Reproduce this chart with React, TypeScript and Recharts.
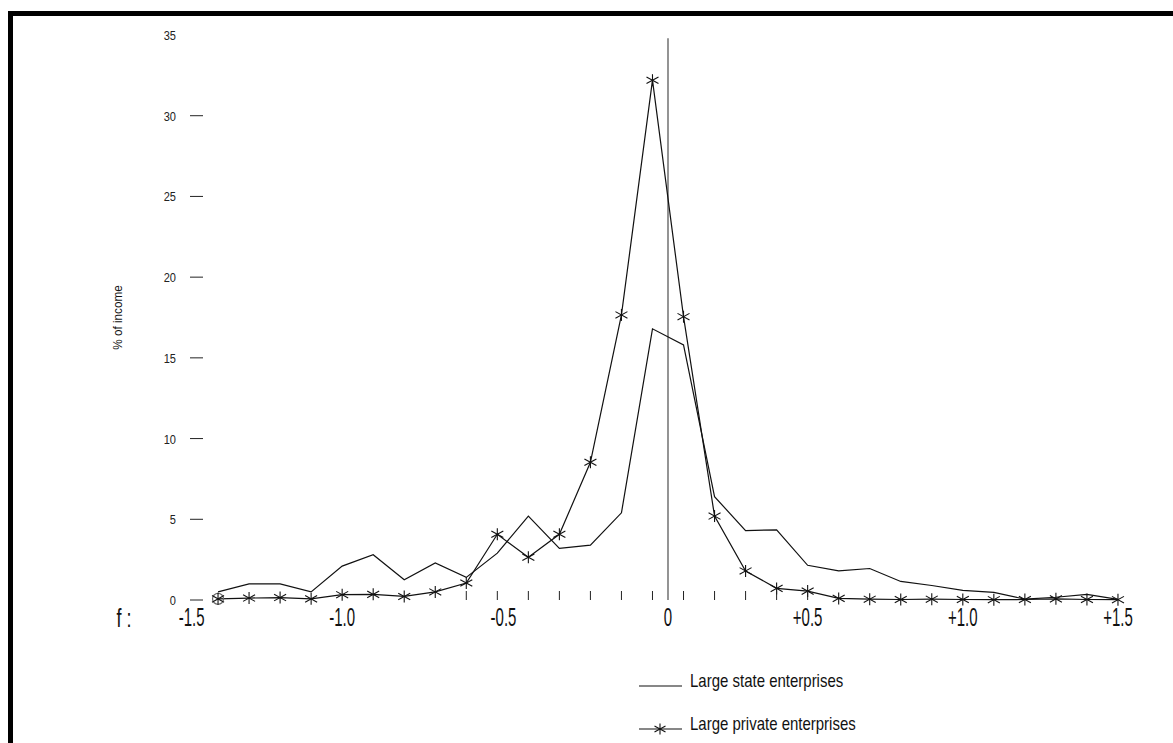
import { LineChart, Line, XAxis, YAxis, ReferenceLine, Legend } from "recharts";

// bin midpoints of f (width 0.1)
const binMid = [
  -1.45, -1.35, -1.25, -1.15, -1.05, -0.95, -0.85, -0.75, -0.65, -0.55,
  -0.45, -0.35, -0.25, -0.15, -0.05, 0.05, 0.15, 0.25, 0.35, 0.45,
  0.55, 0.65, 0.75, 0.85, 0.95, 1.05, 1.15, 1.25, 1.35, 1.45,
];

// % of income
const stateShare = [
  0.5, 1.0, 1.0, 0.5, 2.1, 2.8, 1.25, 2.3, 1.4, 2.9,
  5.2, 3.2, 3.4, 5.4, 16.8, 15.8, 6.4, 4.3, 4.35, 2.15,
  1.8, 1.95, 1.15, 0.9, 0.6, 0.47, 0.05, 0.17, 0.35, 0.04,
];
const privateShare = [
  0.07, 0.12, 0.15, 0.07, 0.33, 0.35, 0.22, 0.5, 1.05, 4.07,
  2.65, 4.07, 8.53, 17.66, 32.2, 17.55, 5.2, 1.8, 0.72, 0.55,
  0.1, 0.05, 0.03, 0.05, 0.03, 0.02, 0.03, 0.07, 0.03, 0.02,
];

const yTicks = [0, 5, 10, 15, 20, 25, 30, 35];
const xLabelAt = [-1.535, -1.05, -0.53, 0, 0.45, 0.95, 1.45];
const xLabelText = ["-1.5", "-1.0", "-0.5", "0", "+0.5", "+1.0", "+1.5"];
const minorTickAt = [
  -0.65, -0.55, -0.45, -0.35, -0.25, -0.15, -0.05, 0.05, 0.15, 0.25, 0.35, 0.45,
];

const data = binMid.map((f, i) => ({
  f,
  state: stateShare[i],
  priv: privateShare[i],
}));

const allXTicks = Array.from(new Set([...xLabelAt, ...minorTickAt])).sort(
  (a, b) => a - b
);

const FONT = "'Liberation Sans', Arial, sans-serif";

function XTick(props: any) {
  const { x, y, payload } = props;
  const v = payload.value;
  const li = xLabelAt.indexOf(v);
  const minor = minorTickAt.includes(v);
  return (
    <g>
      {minor && (
        <line x1={x} x2={x} y1={y - 9} y2={y} stroke="#222" strokeWidth={1} />
      )}
      {li >= 0 && (
        <text
          transform={`translate(${x},${y + 26}) scale(0.6,1)`}
          textAnchor="middle"
          fontFamily={FONT}
          fontSize={25}
          fill="#111"
        >
          {xLabelText[li]}
        </text>
      )}
    </g>
  );
}

function YTick(props: any) {
  const { x, y, payload } = props;
  return (
    <g>
      {payload.value !== 35 && (
        <line x1={x + 3} x2={x + 16} y1={y} y2={y} stroke="#222" strokeWidth={1} />
      )}
      <text
        transform={`translate(${x - 11},${y + 5}) scale(0.85,1)`}
        textAnchor="end"
        fontFamily={FONT}
        fontSize={13}
        fill="#222"
      >
        {payload.value}
      </text>
    </g>
  );
}

function Star({ cx, cy, s = 6 }: { cx: number; cy: number; s?: number }) {
  return (
    <g stroke="#111" strokeWidth={1.1}>
      <line x1={cx} x2={cx} y1={cy - s} y2={cy + s} />
      <line x1={cx - s} x2={cx + s} y1={cy - s * 0.55} y2={cy + s * 0.55} />
      <line x1={cx - s} x2={cx + s} y1={cy + s * 0.55} y2={cy - s * 0.55} />
    </g>
  );
}

const renderStar = (props: any) => {
  const { cx, cy, index } = props;
  return (
    <g key={`star-${index}`}>
      {index === 0 && (
        <circle cx={cx} cy={cy} r={5.5} fill="none" stroke="#666" strokeWidth={1.2} />
      )}
      <Star cx={cx} cy={cy} />
    </g>
  );
};

const renderYLabel = (props: any) => {
  const vb = props.viewBox;
  const cx = vb.x - 9.5;
  const cy = vb.y + vb.height / 2;
  return (
    <text
      transform={`translate(${cx},${cy}) rotate(-90) scale(0.9,1)`}
      textAnchor="middle"
      dominantBaseline="central"
      fontFamily={FONT}
      fontSize={13}
      fill="#111"
    >
      % of income
    </text>
  );
};

const renderXLabel = (props: any) => {
  const vb = props.viewBox;
  return (
    <text
      transform={`translate(${vb.x - 63},${vb.y + 27}) scale(0.72,1)`}
      textAnchor="middle"
      fontFamily={FONT}
      fontSize={25}
      fill="#111"
    >
      f :
    </text>
  );
};

function LegendBox() {
  const txt = {
    position: "absolute" as const,
    left: 60,
    fontFamily: FONT,
    fontSize: 18.5,
    lineHeight: "19px",
    color: "#111",
    whiteSpace: "nowrap" as const,
    transform: "scaleX(0.81)",
    transformOrigin: "0 0",
  };
  return (
    <div style={{ position: "relative", width: 300, height: 80 }}>
      <svg style={{ position: "absolute", left: 9, top: 20 }} width={44} height={12}>
        <line x1={0} x2={43} y1={6} y2={6} stroke="#111" strokeWidth={1.2} />
      </svg>
      <div style={{ ...txt, top: 11 }}>Large state enterprises</div>
      <svg style={{ position: "absolute", left: 9, top: 63 }} width={44} height={14}>
        <line x1={0} x2={43} y1={6} y2={6} stroke="#111" strokeWidth={1.2} />
        <Star cx={21} cy={6} s={5.5} />
      </svg>
      <div style={{ ...txt, top: 54 }}>Large private enterprises</div>
    </div>
  );
}

export default function App() {
  return (
    <div
      style={{
        position: "absolute",
        left: 0,
        top: 0,
        width: 1173,
        height: 743,
        background: "#fff",
        overflow: "hidden",
      }}
    >
      <div
        style={{
          position: "absolute",
          left: 8,
          top: 11,
          right: 0,
          bottom: 0,
          borderLeft: "5px solid #000",
          borderTop: "5px solid #000",
        }}
      />
      <div style={{ position: "absolute", left: 0, top: 0 }}>
        <LineChart
          width={1173}
          height={743}
          data={data}
          margin={{ top: 35, right: 24, left: 127, bottom: 103 }}
        >
          <XAxis
            dataKey="f"
            type="number"
            domain={[-1.55, 1.55]}
            allowDataOverflow
            ticks={allXTicks}
            interval={0}
            tick={<XTick />}
            tickLine={false}
            axisLine={false}
            tickSize={0}
            tickMargin={0}
            height={40}
            label={renderXLabel}
          />
          <YAxis
            type="number"
            domain={[0, 35]}
            ticks={yTicks}
            interval={0}
            tick={<YTick />}
            tickLine={false}
            axisLine={false}
            tickSize={0}
            tickMargin={0}
            width={60}
            label={renderYLabel}
          />
          <ReferenceLine
            segment={[
              { x: 0, y: 0 },
              { x: 0, y: 34.8 },
            ]}
            stroke="#666"
            strokeWidth={1.4}
          />
          <Line
            type="linear"
            dataKey="state"
            stroke="#111"
            strokeWidth={1.2}
            dot={false}
            activeDot={false}
            isAnimationActive={false}
          />
          <Line
            type="linear"
            dataKey="priv"
            stroke="#111"
            strokeWidth={1.2}
            dot={renderStar}
            activeDot={false}
            isAnimationActive={false}
          />
          <Legend
            layout="vertical"
            align="center"
            verticalAlign="middle"
            content={() => <LegendBox />}
            wrapperStyle={{ left: 630, top: 660, width: 300 }}
          />
        </LineChart>
      </div>
    </div>
  );
}
